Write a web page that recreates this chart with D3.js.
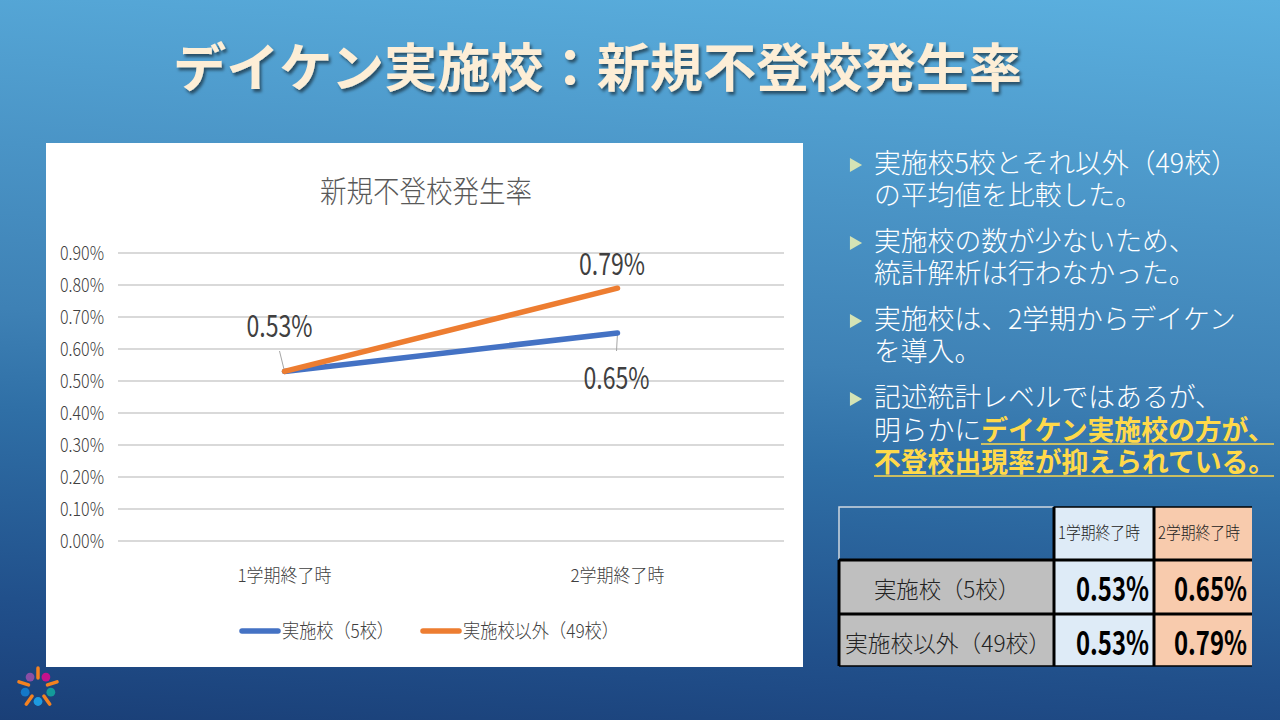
<!DOCTYPE html>
<html>
<head>
<meta charset="utf-8">
<script src="https://cdn.jsdelivr.net/npm/d3@7"></script>
<style>
html,body{margin:0;padding:0;background:#1a3f78;overflow:hidden}
svg{display:block}
text{font-family:"Noto Sans CJK JP","Noto Sans",sans-serif}
</style>
</head>
<body>
<svg id="slide" width="1280" height="720"></svg>
<script>
// chart data
var categories = ["1学期終了時", "2学期終了時"];
var seriesNames = ["実施校（5校）", "実施校以外（49校）"];
var jisshi = [0.53, 0.65];
var igai = [0.53, 0.79];
var yTicks = [0, 0.1, 0.2, 0.3, 0.4, 0.5, 0.6, 0.7, 0.8, 0.9];
var colors = ["#4472c4", "#ed7d31"];

// right column bullets
var bullets = [
	[[{t:"実施校5校とそれ以外（49校）"}], [{t:"の平均値を比較した。"}]],
	[[{t:"実施校の数が少ないため、"}], [{t:"統計解析は行わなかった。"}]],
	[[{t:"実施校は、2学期からデイケン"}], [{t:"を導入。"}]],
	[[{t:"記述統計レベルではあるが、"}], [{t:"明らかに"}, {t:"デイケン実施校の方が、", hl:true}], [{t:"不登校出現率が抑えられている。", hl:true}]]
];

var svg = d3.select("#slide");

// background, slightly tilted so the top right is the lightest corner
var defs = svg.append("defs");
var grad = defs.append("linearGradient").attr("id", "bg")
	.attr("gradientUnits", "userSpaceOnUse")
	.attr("x1", 1280).attr("y1", 0).attr("x2", 1224).attr("y2", 806);
[[0, "#5bb0df"], [0.286, "#4a94c6"], [0.49, "#3e81b5"], [0.616, "#2f6fa6"], [0.848, "#21508b"], [0.893, "#1f4b86"], [1, "#1a3f77"]]
	.forEach(function(s){
		grad.append("stop").attr("offset", s[0]).attr("stop-color", s[1]);
	});
svg.append("rect").attr("width", 1280).attr("height", 720).attr("fill", "url(#bg)");

var shadow = defs.append("filter").attr("id", "ts").attr("x", "-5%").attr("y", "-20%").attr("width", "110%").attr("height", "140%");
shadow.append("feDropShadow").attr("dx", 2).attr("dy", 3).attr("stdDeviation", 1.5)
	.attr("flood-color", "#000").attr("flood-opacity", 0.5);

// title
svg.append("text").attr("x", 173).attr("y", 87)
	.attr("font-size", 52).attr("font-weight", 700).attr("fill", "#fdeed6")
	.attr("filter", "url(#ts)")
	.attr("textLength", 849).attr("lengthAdjust", "spacingAndGlyphs")
	.text("デイケン実施校：新規不登校発生率");

// chart panel
svg.append("rect").attr("x", 46).attr("y", 143).attr("width", 757).attr("height", 524).attr("fill", "#fff");

svg.append("text").attr("x", 426).attr("y", 202).attr("text-anchor", "middle")
	.attr("font-size", 30).attr("font-weight", 300).attr("fill", "#595959")
	.attr("textLength", 212).attr("lengthAdjust", "spacingAndGlyphs")
	.text("新規不登校発生率");

var x = d3.scaleBand().domain(categories).range([118, 784]);
var y = d3.scaleLinear().domain([0, 0.9]).range([541, 253]);

var yAxis = d3.axisLeft(y).tickValues(yTicks).tickSize(0).tickPadding(14)
	.tickFormat(function(d){ return d.toFixed(2) + "%"; });
var gy = svg.append("g").attr("transform", "translate(118,0.5)").call(yAxis);
gy.select(".domain").remove();
gy.selectAll("text").attr("font-size", 19).attr("font-weight", 300).attr("fill", "#404040")
	.attr("font-family", '"Noto Sans CJK JP"')
	.attr("textLength", 44).attr("lengthAdjust", "spacingAndGlyphs");

svg.append("g").selectAll("line").data(yTicks).enter().append("line")
	.attr("x1", 118).attr("x2", 784)
	.attr("y1", function(d){ return y(d); }).attr("y2", function(d){ return y(d); })
	.attr("stroke", "#d9d9d9").attr("stroke-width", 2);

var xAxis = d3.axisBottom(x).tickSize(0).tickPadding(28);
var gx = svg.append("g").attr("transform", "translate(0,541)").call(xAxis);
gx.select(".domain").remove();
gx.selectAll("text").attr("font-size", 18).attr("font-weight", 300).attr("fill", "#404040")
	.attr("font-family", '"Noto Sans CJK JP"')
	.attr("textLength", 94).attr("lengthAdjust", "spacingAndGlyphs");

// leader lines
var xc = function(c){ return x(c) + x.bandwidth()/2; };
svg.append("line").attr("x1", xc(categories[0]) - 5).attr("y1", 351)
	.attr("x2", xc(categories[0])).attr("y2", y(jisshi[0])).attr("stroke", "#a6a6a6").attr("stroke-width", 1);
svg.append("line").attr("x1", xc(categories[1])).attr("y1", y(jisshi[1]))
	.attr("x2", xc(categories[1]) - 1).attr("y2", 351).attr("stroke", "#a6a6a6").attr("stroke-width", 1);

// lines
var line = d3.line()
	.x(function(d, i){ return xc(categories[i]); })
	.y(function(d){ return y(d); });
[jisshi, igai].forEach(function(s, i){
	svg.append("path").attr("d", line(s)).attr("fill", "none")
		.attr("stroke", colors[i]).attr("stroke-width", 5.5).attr("stroke-linecap", "round");
});

// data labels
var labelFmt = function(v){ return v.toFixed(2) + "%"; };
var addLabel = function(v, lx, ly){
	svg.append("text").attr("x", lx).attr("y", ly).attr("text-anchor", "middle")
		.attr("font-size", 30).attr("font-weight", 400).attr("fill", "#404040")
		.attr("textLength", 66).attr("lengthAdjust", "spacingAndGlyphs")
		.text(labelFmt(v));
};
addLabel(jisshi[0], 279.5, 337);
addLabel(igai[1], 612, 275);
addLabel(jisshi[1], 616.5, 389);

// legend
var legendPos = [[242, 282, 112], [423, 463, 156]];
seriesNames.forEach(function(n, i){
	svg.append("line").attr("x1", legendPos[i][0]).attr("x2", legendPos[i][0] + 36)
		.attr("y1", 631).attr("y2", 631).attr("stroke", colors[i]).attr("stroke-width", 5.5)
		.attr("stroke-linecap", "round");
	svg.append("text").attr("x", legendPos[i][1]).attr("y", 638)
		.attr("font-size", 19).attr("font-weight", 300).attr("fill", "#404040")
		.attr("textLength", legendPos[i][2]).attr("lengthAdjust", "spacingAndGlyphs")
		.text(n);
});

// bullets
var lineY = [[173, 205], [251, 283], [329, 361], [407, 440, 472]];
bullets.forEach(function(b, i){
	svg.append("path")
		.attr("d", d3.symbol().type(d3.symbolTriangle).size(85))
		.attr("transform", "translate(854," + (lineY[i][0] - 8) + ") rotate(90)")
		.attr("fill", "#d4e3b5");
	b.forEach(function(runs, j){
		var t = svg.append("text").attr("x", 874).attr("y", lineY[i][j])
			.attr("font-size", 26.8).attr("font-weight", 300).attr("fill", "#fff");
		runs.forEach(function(r){
			var s = t.append("tspan").text(r.t);
			if(r.hl) s.attr("fill", "#ffd94a").attr("font-weight", 700);
		});
	});
});
svg.append("line").attr("x1", 981).attr("x2", 1274).attr("y1", 444).attr("y2", 444).attr("stroke", "#ffd94a").attr("stroke-width", 1.5);
svg.append("line").attr("x1", 874).attr("x2", 1274).attr("y1", 476).attr("y2", 476).attr("stroke", "#ffd94a").attr("stroke-width", 1.5);

// table
var colX = [839, 1054, 1154, 1252];
var rowY = [507, 560, 614, 666];
var colFill = ["#bfbfbf", "#deebf7", "#f8cbad"];
var tbl = svg.append("g");
// header empty cell
tbl.append("path").attr("d", "M839,559V507H1053").attr("fill", "none").attr("stroke", "#d0d8e0").attr("stroke-width", 1.5);
tbl.append("rect").attr("x", 1054).attr("y", 507).attr("width", 100).attr("height", 53).attr("fill", colFill[1]);
tbl.append("rect").attr("x", 1154).attr("y", 507).attr("width", 98).attr("height", 53).attr("fill", colFill[2]);
[0, 1].forEach(function(r){
	[0, 1, 2].forEach(function(c){
		tbl.append("rect").attr("x", colX[c]).attr("y", rowY[r + 1])
			.attr("width", colX[c + 1] - colX[c]).attr("height", rowY[r + 2] - rowY[r + 1])
			.attr("fill", colFill[c]);
	});
});
// borders
var vLines = [[1054, 507, 666], [1154, 507, 666], [839, 560, 666]];
vLines.forEach(function(v){
	tbl.append("line").attr("x1", v[0]).attr("x2", v[0]).attr("y1", v[1]).attr("y2", v[2]).attr("stroke", "#000").attr("stroke-width", 3);
});
[[560, 839, 1252], [614, 839, 1252], [666, 839, 1252], [507, 1054, 1252]].forEach(function(h, i){
	tbl.append("line").attr("x1", h[1]).attr("x2", h[2]).attr("y1", h[0]).attr("y2", h[0]).attr("stroke", "#000")
		.attr("stroke-width", i == 2 || i == 3 ? 1.5 : 3);
});

categories.forEach(function(c, i){
	tbl.append("text").attr("x", colX[i + 1] + 4).attr("y", 539)
		.attr("font-size", 17).attr("font-weight", 300).attr("fill", "#222")
		.attr("textLength", 82).attr("lengthAdjust", "spacingAndGlyphs")
		.text(c);
});
tbl.append("text").attr("x", 874).attr("y", 598)
	.attr("font-size", 23).attr("font-weight", 300).attr("fill", "#222")
	.attr("textLength", 146).attr("lengthAdjust", "spacingAndGlyphs").text(seriesNames[0]);
tbl.append("text").attr("x", 845).attr("y", 652)
	.attr("font-size", 23).attr("font-weight", 300).attr("fill", "#222")
	.attr("textLength", 206).attr("lengthAdjust", "spacingAndGlyphs").text(seriesNames[1]);
[jisshi, igai].forEach(function(s, r){
	s.forEach(function(v, c){
		tbl.append("text").attr("x", colX[c + 2] - 5).attr("y", rowY[r + 1] + 41).attr("text-anchor", "end")
			.attr("font-size", 33).attr("font-weight", 700).attr("fill", "#000")
			.attr("textLength", 73).attr("lengthAdjust", "spacingAndGlyphs")
			.text(labelFmt(v));
	});
});

// logo
var logo = svg.append("g").attr("transform", "translate(38,688)");
var armColor = "#f58220";
d3.range(5).forEach(function(i){
	var a = -90 + i * 72;
	logo.append("line").attr("x1", 10).attr("x2", 20).attr("y1", 0).attr("y2", 0)
		.attr("transform", "rotate(" + a + ")")
		.attr("stroke", armColor).attr("stroke-width", 3.5).attr("stroke-linecap", "round");
});
var dotColors = ["#c4128c", "#149a9a", "#1e9ae0", "#1478c8", "#8a4fa5"];
dotColors.forEach(function(col, i){
	var a = (-54 + i * 72) * Math.PI / 180;
	logo.append("circle").attr("cx", 13.5 * Math.cos(a)).attr("cy", 13.5 * Math.sin(a)).attr("r", 4.4).attr("fill", col);
});
</script>
</body>
</html>
